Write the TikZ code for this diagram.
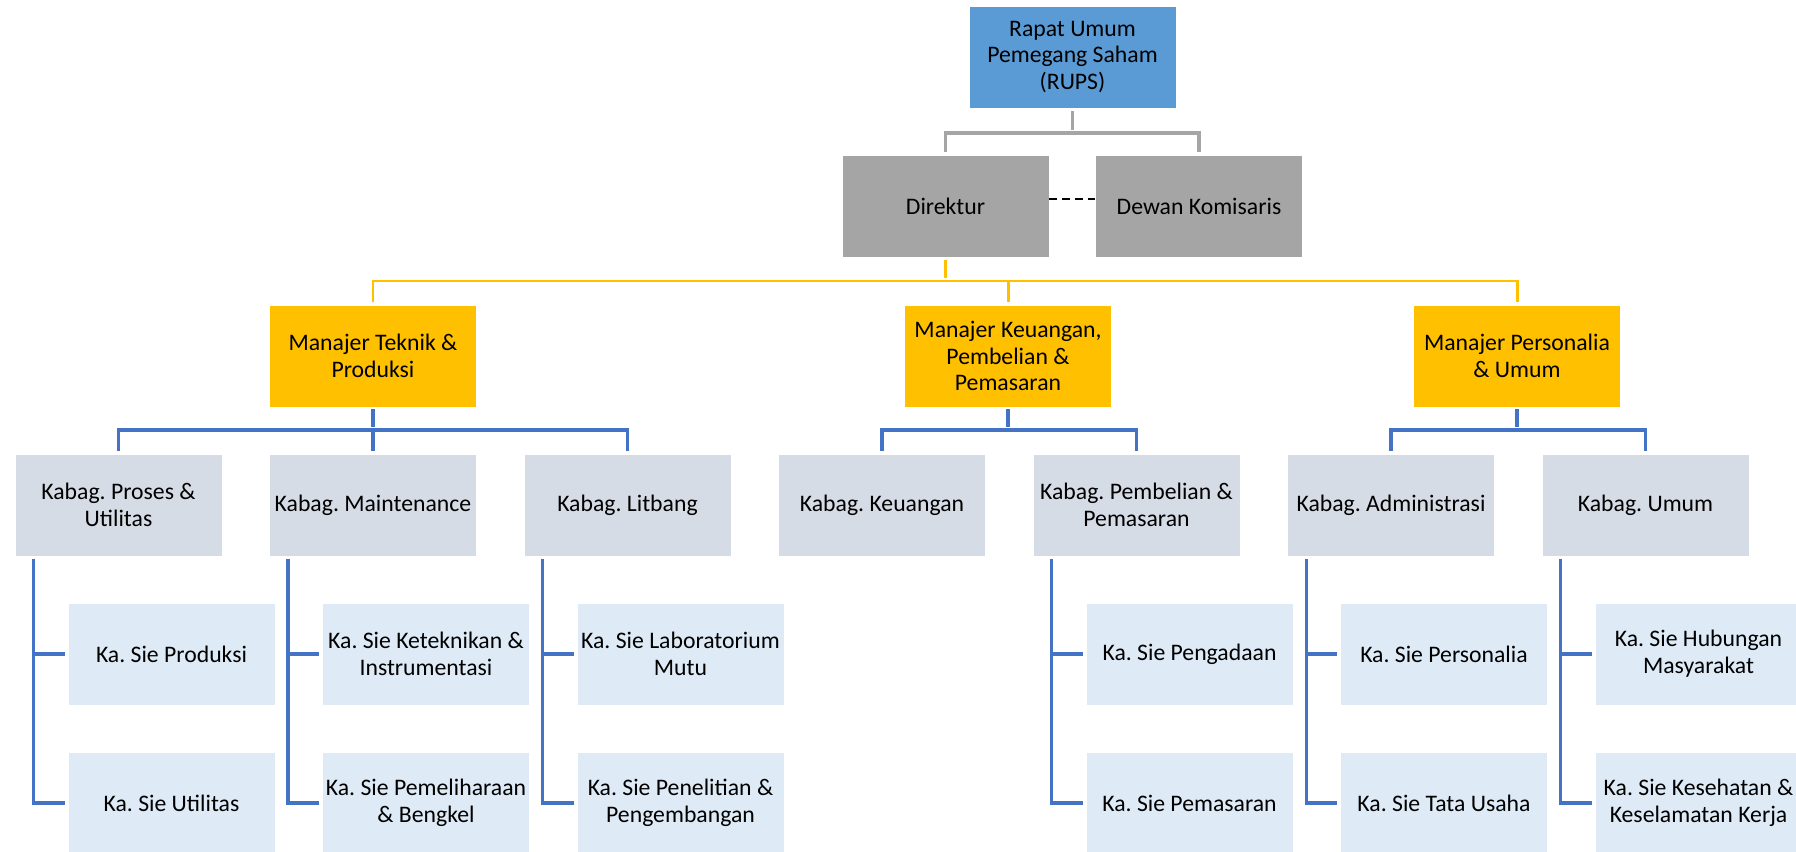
\documentclass[tikz,border=0pt]{standalone}
\usepackage{fontspec}
\setmainfont{Carlito}
\usepackage{tikz}

\definecolor{rupsblue}{HTML}{5B9BD5}
\definecolor{dirgrey}{HTML}{A5A5A5}
\definecolor{mgryellow}{HTML}{FFC000}
\definecolor{kabagfill}{HTML}{D6DCE5}
\definecolor{siefill}{HTML}{DEEBF7}
\definecolor{lineblue}{HTML}{4472C4}

\tikzset{
  box/.style={rectangle, minimum width=4.14cm, minimum height=2.04cm, inner sep=0pt,
    align=center, font=\fontsize{13.5}{15.3}\selectfont\frenchspacing, draw=white, line width=0.4pt},
  rupsbox/.style={box, fill=rupsblue},
  dirbox/.style={box, fill=dirgrey},
  mgrbox/.style={box, fill=mgryellow},
  kabagbox/.style={box, fill=kabagfill},
  siebox/.style={box, fill=siefill},
  greyline/.style={dirgrey, line width=1.9pt, shorten >=0.06cm},
  yellowline/.style={mgryellow, line width=1.7pt, shorten >=0.06cm},
  blueline/.style={lineblue, line width=1.9pt, shorten >=0.06cm},
}

\begin{document}
\begin{tikzpicture}[x=0.02cm, y=-0.02cm]
  \clip (0,0) rectangle (1796,852);

  % top
  \node[rupsbox] (rups) at (1072.5,57) {Rapat Umum\\Pemegang Saham\\(RUPS)};
  \node[dirbox] (direktur) at (945.5,206) {Direktur};
  \node[dirbox] (dewan) at (1199,206) {Dewan Komisaris};

  % manajer
  \node[mgrbox] (mteknik) at (373,356) {Manajer Teknik \&\\Produksi};
  \node[mgrbox] (mkeu) at (1008,356) {Manajer Keuangan,\\Pembelian \&\\Pemasaran};
  \node[mgrbox] (mpers) at (1517,356) {Manajer Personalia\\\& Umum};

  % kabag
  \node[kabagbox] (proses) at (118.5,505) {Kabag. Proses \&\\Utilitas};
  \node[kabagbox] (maint) at (373,505) {Kabag. Maintenance};
  \node[kabagbox] (litbang) at (627.5,505) {Kabag. Litbang};
  \node[kabagbox] (keu) at (882,505) {Kabag. Keuangan};
  \node[kabagbox] (beli) at (1136.5,505) {Kabag. Pembelian \&\\Pemasaran};
  \node[kabagbox] (admin) at (1391,505) {Kabag. Administrasi};
  \node[kabagbox] (umum) at (1645.5,505) {Kabag. Umum};

  % ka. sie
  \node[siebox] (sprod) at (171.5,654) {Ka. Sie Produksi};
  \node[siebox] (sutil) at (171.5,803) {Ka. Sie Utilitas};
  \node[siebox] (stek) at (426,654) {Ka. Sie Keteknikan \&\\Instrumentasi};
  \node[siebox] (spel) at (426,803) {Ka. Sie Pemeliharaan\\\& Bengkel};
  \node[siebox] (slab) at (680.5,654) {Ka. Sie Laboratorium\\Mutu};
  \node[siebox] (speng) at (680.5,803) {Ka. Sie Penelitian \&\\Pengembangan};
  \node[siebox] (sada) at (1189.5,654) {Ka. Sie Pengadaan};
  \node[siebox] (spsr) at (1189.5,803) {Ka. Sie Pemasaran};
  \node[siebox] (sper) at (1444,654) {Ka. Sie Personalia};
  \node[siebox] (stu) at (1444,803) {Ka. Sie Tata Usaha};
  \node[siebox] (shum) at (1698.5,654) {Ka. Sie Hubungan\\Masyarakat};
  \node[siebox] (sk3) at (1698.5,803) {Ka. Sie Kesehatan \&\\Keselamatan Kerja};

  % junctions
  \coordinate (jr) at (1072.5,133);
  \coordinate (jd) at (945.5,281);
  \coordinate (jt) at (373,430);
  \coordinate (jk) at (1008,430);
  \coordinate (jp) at (1517,430);

  % rups -> direktur, dewan
  \draw[greyline, shorten <=0.06cm] (rups.south) -- (jr);
  \draw[greyline] (jr) -| (direktur.north);
  \draw[greyline] (jr) -| (dewan.north);
  \draw[black, line width=1.2pt, dash pattern=on 0.16cm off 0.1cm]
    ([yshift=0.14cm]direktur.east) -- ([yshift=0.14cm]dewan.west);

  % direktur -> manajer
  \draw[yellowline, shorten <=0.06cm] (direktur.south) -- (jd);
  \draw[yellowline] (jd) -| (mteknik.north);
  \draw[yellowline] (jd) -| (mkeu.north);
  \draw[yellowline] (jd) -| (mpers.north);

  % manajer -> kabag
  \draw[blueline, shorten <=0.04cm] (mteknik.south) -- (jt);
  \draw[blueline] (jt) -| (proses.north);
  \draw[blueline] (jt) -| (maint.north);
  \draw[blueline] (jt) -| (litbang.north);
  \draw[blueline, shorten <=0.04cm] (mkeu.south) -- (jk);
  \draw[blueline] (jk) -| (keu.north);
  \draw[blueline] (jk) -| (beli.north);
  \draw[blueline, shorten <=0.04cm] (mpers.south) -- (jp);
  \draw[blueline] (jp) -| (admin.north);
  \draw[blueline] (jp) -| (umum.north);

  % kabag -> ka. sie
  \draw[blueline, shorten <=0.06cm] ([xshift=0.38cm]proses.south west) |- (sprod.west);
  \draw[blueline, shorten <=0.06cm] ([xshift=0.38cm]proses.south west) |- (sutil.west);
  \draw[blueline, shorten <=0.06cm] ([xshift=0.38cm]maint.south west) |- (stek.west);
  \draw[blueline, shorten <=0.06cm] ([xshift=0.38cm]maint.south west) |- (spel.west);
  \draw[blueline, shorten <=0.06cm] ([xshift=0.38cm]litbang.south west) |- (slab.west);
  \draw[blueline, shorten <=0.06cm] ([xshift=0.38cm]litbang.south west) |- (speng.west);
  \draw[blueline, shorten <=0.06cm] ([xshift=0.38cm]beli.south west) |- (sada.west);
  \draw[blueline, shorten <=0.06cm] ([xshift=0.38cm]beli.south west) |- (spsr.west);
  \draw[blueline, shorten <=0.06cm] ([xshift=0.38cm]admin.south west) |- (sper.west);
  \draw[blueline, shorten <=0.06cm] ([xshift=0.38cm]admin.south west) |- (stu.west);
  \draw[blueline, shorten <=0.06cm] ([xshift=0.38cm]umum.south west) |- (shum.west);
  \draw[blueline, shorten <=0.06cm] ([xshift=0.38cm]umum.south west) |- (sk3.west);
\end{tikzpicture}
\end{document}
